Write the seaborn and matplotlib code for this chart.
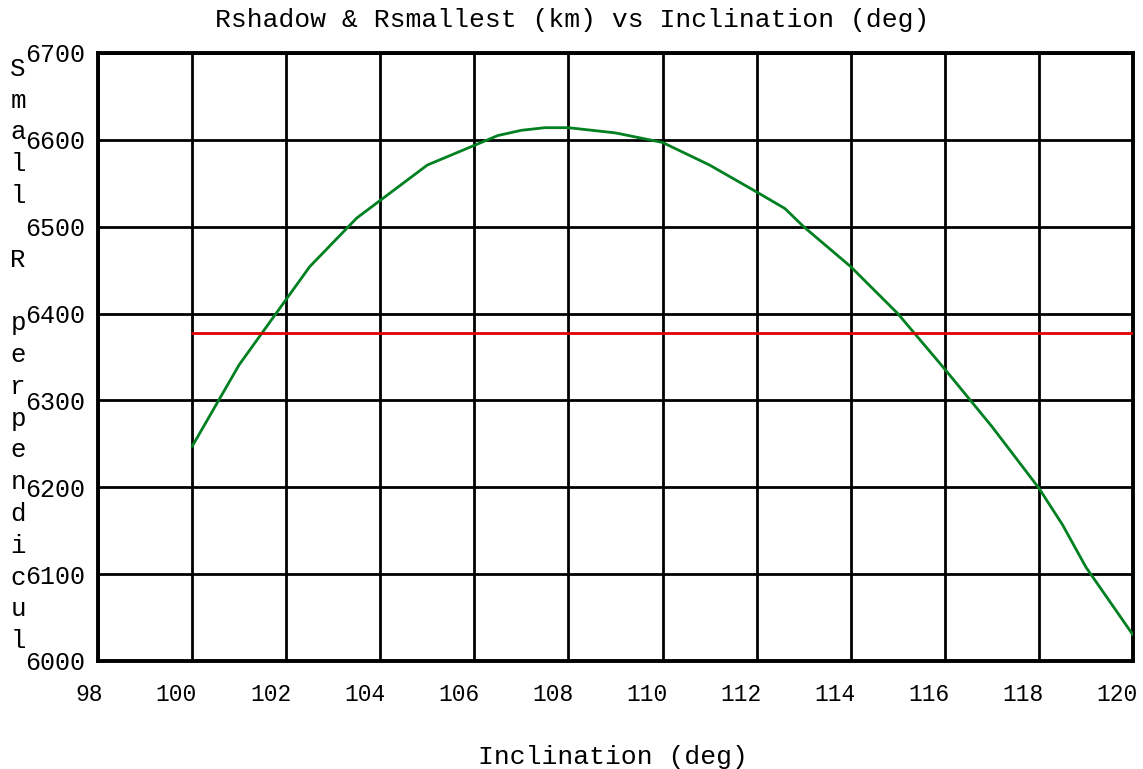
import matplotlib
matplotlib.use("Agg")
import matplotlib.pyplot as plt
import matplotlib.transforms as mtransforms
import seaborn as sns
import pandas as pd

# Data
inclination = [100, 101, 102.5, 103.5, 105, 106.5, 107, 107.5, 108, 109, 110, 111,
               112, 112.6, 113, 114, 115, 116, 117, 118, 118.5, 119, 120]
r_smallest = [6247, 6341, 6454, 6510, 6571, 6605, 6611, 6614, 6614, 6608, 6597, 6571,
              6540, 6521, 6500, 6454, 6400, 6336, 6270, 6199, 6157, 6108, 6030]
shadow_x = [100, 120]
r_shadow = [6378, 6378]

x_ticks = [98, 100, 102, 104, 106, 108, 110, 112, 114, 116, 118, 120]
y_ticks = [6000, 6100, 6200, 6300, 6400, 6500, 6600, 6700]

title = "Rshadow & Rsmallest (km) vs Inclination (deg)"
xlabel = "Inclination (deg)"
ylabel = "Small R perpendicul"

sns.set_style("white")
plt.rcParams['font.family'] = ['Liberation Mono', 'DejaVu Sans Mono']

W, H = 1143, 769
fig = plt.figure(figsize=(W / 100, H / 100), dpi=100)
ax = fig.add_axes([98 / W, 1 - 661 / H, (1133 - 98) / W, (661 - 53) / H])

df_small = pd.DataFrame({"x": inclination, "y": r_smallest})
df_shadow = pd.DataFrame({"x": shadow_x, "y": r_shadow})
sns.lineplot(data=df_small, x="x", y="y", ax=ax, color="#008020", linewidth=2.0, zorder=3)
sns.lineplot(data=df_shadow, x="x", y="y", ax=ax, color="#e00000", linewidth=2.0, zorder=3)

ax.set_xlim(98, 120)
ax.set_ylim(6000, 6700)
ax.set_xticks(x_ticks)
ax.set_yticks(y_ticks)
ax.set_xticklabels([str(t) for t in x_ticks])
ax.set_yticklabels([str(t) for t in y_ticks])
ax.grid(True, color="black", linewidth=2.0)
ax.set_axisbelow(True)
for s in ax.spines.values():
    s.set_color("black")
    s.set_linewidth(2.8)
ax.tick_params(axis="y", which="major", direction="out", length=7, width=2.0,
               color="black", labelsize=18, labelcolor="black", pad=2)
ax.tick_params(axis="x", which="major", direction="out", length=10, width=2.0,
               color="black", labelsize=16.5, labelcolor="black", pad=6)
offset = mtransforms.ScaledTranslation(5 / 100, 0, fig.dpi_scale_trans)
for lab in ax.get_xticklabels():
    lab.set_horizontalalignment("right")
    lab.set_transform(lab.get_transform() + offset)
ax.set_xlabel("")
ax.set_ylabel("")

fig.text(572 / W, 1 - 20 / H, title, ha="center", va="center",
         fontsize=19, color="black")
fig.text(613 / W, 1 - 757 / H, xlabel, ha="center", va="center", fontsize=19, color="black")
fig.text(18 / W, 1 - 355 / H, "\n".join(list(ylabel)), ha="center", va="center",
         fontsize=18.5, color="black", linespacing=1.41)

fig.savefig("out.png", dpi=100)
